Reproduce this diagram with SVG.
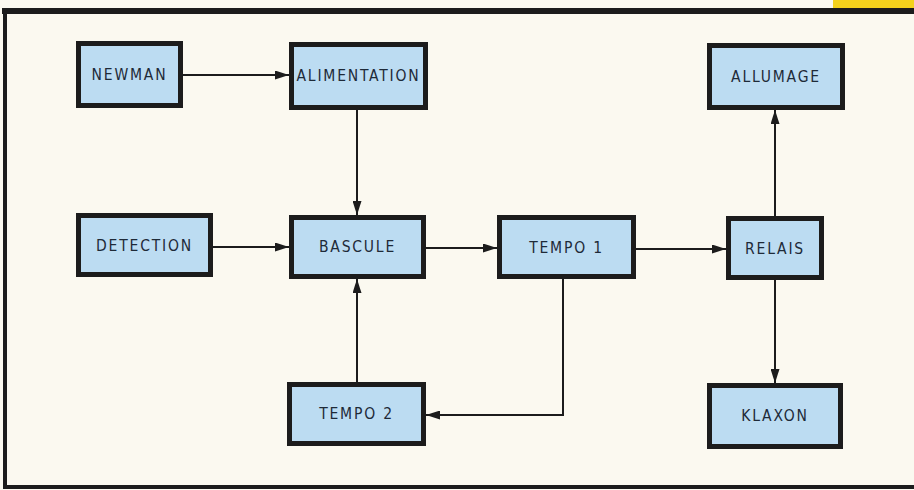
<svg xmlns="http://www.w3.org/2000/svg" width="914" height="490" viewBox="0 0 914 490">
<style>
.box{fill:#bcdcf2;stroke:#1c1c1c;stroke-width:5}
.lbl{font-family:"DejaVu Sans Condensed","Liberation Sans",sans-serif;font-size:15.5px;fill:#1e2a38;letter-spacing:1.8px;text-anchor:middle;dominant-baseline:central}
.con{fill:none;stroke:#1c1c1c;stroke-width:2}
</style>
<defs>
<marker id="ah" viewBox="0 0 14 9" refX="14" refY="4.5" markerWidth="14" markerHeight="9" markerUnits="userSpaceOnUse" orient="auto">
<path d="M0,0 L14,4.5 L0,9 Z" fill="#1c1c1c"/>
</marker>
</defs>
<rect x="0" y="0" width="914" height="490" fill="#fbf9f0"/>
<rect x="833" y="0" width="81" height="8" fill="#f4d21c"/>
<g id="frame" fill="none" stroke="#1c1c1c">
<line x1="2" y1="11" x2="914" y2="11" stroke-width="6"/>
<line x1="5" y1="8" x2="5" y2="489" stroke-width="4"/>
<line x1="3" y1="487" x2="914" y2="487" stroke-width="4"/>
</g>
<g id="connectors">
<line class="con" x1="183" y1="75" x2="289" y2="75" marker-end="url(#ah)"/>
<line class="con" x1="357" y1="110" x2="357" y2="215" marker-end="url(#ah)"/>
<line class="con" x1="213" y1="247" x2="289" y2="247" marker-end="url(#ah)"/>
<line class="con" x1="357" y1="382" x2="357" y2="279" marker-end="url(#ah)"/>
<line class="con" x1="426" y1="248" x2="497" y2="248" marker-end="url(#ah)"/>
<line class="con" x1="636" y1="249" x2="726" y2="249" marker-end="url(#ah)"/>
<polyline class="con" points="563,279 563,415 426,415" marker-end="url(#ah)"/>
<line class="con" x1="775" y1="216" x2="775" y2="110" marker-end="url(#ah)"/>
<line class="con" x1="775" y1="280" x2="775" y2="383" marker-end="url(#ah)"/>
</g>
<g id="newman"><rect class="box" x="78.5" y="43.5" width="102" height="62"/><text class="lbl" x="129.5" y="75">NEWMAN</text></g>
<g id="alimentation"><rect class="box" x="291.5" y="44.5" width="134" height="63"/><text class="lbl" x="358.5" y="76">ALIMENTATION</text></g>
<g id="allumage"><rect class="box" x="709.5" y="45.5" width="133" height="62"/><text class="lbl" x="776" y="77">ALLUMAGE</text></g>
<g id="detection"><rect class="box" x="78.5" y="215.5" width="132" height="59"/><text class="lbl" x="144.5" y="246">DETECTION</text></g>
<g id="bascule"><rect class="box" x="291.5" y="217.5" width="132" height="59"/><text class="lbl" x="357.5" y="247">BASCULE</text></g>
<g id="tempo1"><rect class="box" x="499.5" y="217.5" width="134" height="59"/><text class="lbl" x="566.5" y="248">TEMPO  1</text></g>
<g id="relais"><rect class="box" x="728.5" y="218.5" width="93" height="59"/><text class="lbl" x="775" y="249">RELAIS</text></g>
<g id="tempo2"><rect class="box" x="289.5" y="384.5" width="134" height="59"/><text class="lbl" x="356.5" y="414">TEMPO  2</text></g>
<g id="klaxon"><rect class="box" x="709.5" y="385.5" width="131" height="61"/><text class="lbl" x="775" y="416">KLAXON</text></g>
</svg>
